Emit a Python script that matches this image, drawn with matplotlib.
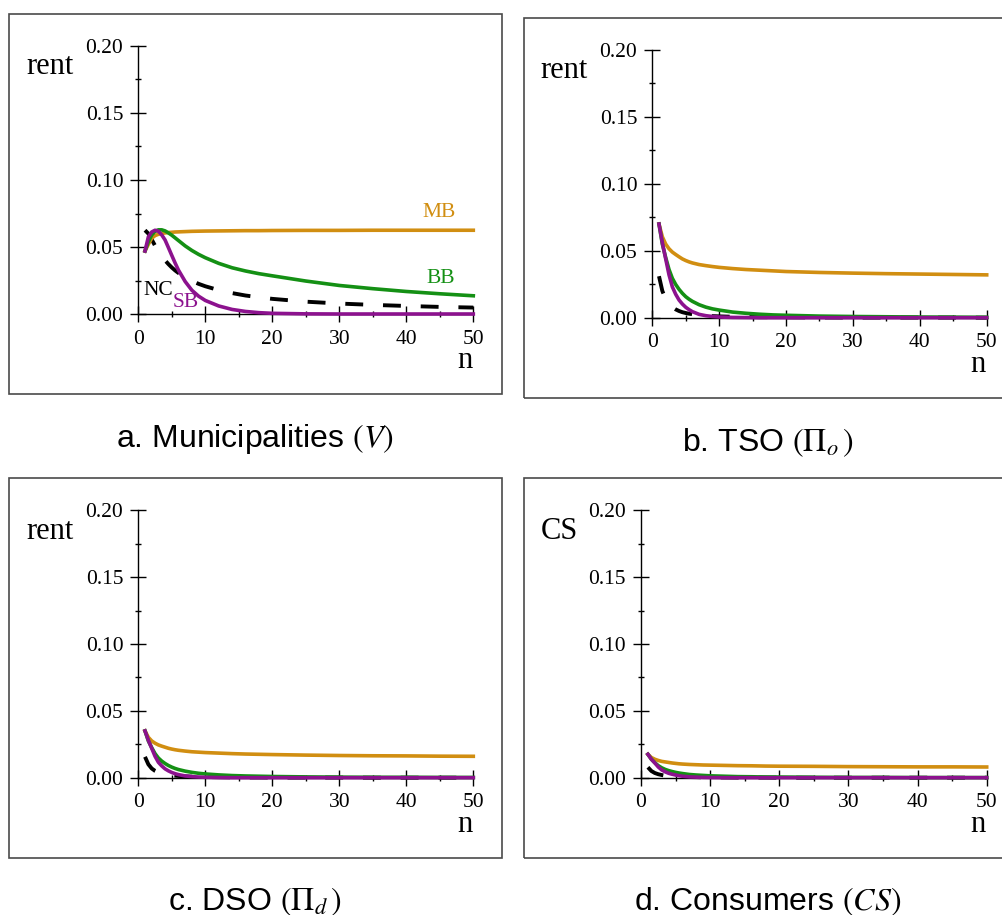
import matplotlib
matplotlib.use("Agg")
import matplotlib.pyplot as plt
from matplotlib.patches import Rectangle
from matplotlib.ticker import MultipleLocator, FormatStrFormatter

plt.rcParams['font.family'] = ['Liberation Serif', 'DejaVu Serif']
plt.rcParams['mathtext.fontset'] = 'stix'

# ---------------- data ----------------
n = [1, 1.5, 2, 2.5, 3, 3.5, 4, 4.5, 5, 5.5, 6, 7, 8, 9, 10, 12, 14, 16, 18, 20,
     25, 30, 35, 40, 45, 50]

# a. Municipalities (V)
MB_a = [0.047, 0.052, 0.0565, 0.0585, 0.0595, 0.0601, 0.0605, 0.0608, 0.061, 0.0612,
        0.0613, 0.0615, 0.0617, 0.0618, 0.0619, 0.062, 0.0621, 0.0622, 0.0622, 0.0623,
        0.0624, 0.0624, 0.0625, 0.0625, 0.0625, 0.0625]
BB_a = [0.047, 0.054, 0.059, 0.0617, 0.0628, 0.0628, 0.0620, 0.0605, 0.0588, 0.0568,
        0.0548, 0.0508, 0.0474, 0.0445, 0.042, 0.0378, 0.0345, 0.0321, 0.0301, 0.0285,
        0.0246, 0.0213, 0.0189, 0.0168, 0.0151, 0.0136]
SB_a = [0.047, 0.0575, 0.0612, 0.0625, 0.0618, 0.059, 0.0552, 0.0495, 0.0437, 0.038,
        0.0327, 0.0242, 0.0177, 0.0133, 0.0101, 0.0060, 0.0034, 0.0019, 0.0010, 0.0005,
        0.0001, 0.0, 0.0, 0.0, 0.0, 0.0]
NC_a = [0.0625, 0.060, 0.0556, 0.051, 0.0469, 0.0432, 0.040, 0.0372, 0.0347, 0.0325,
        0.0306, 0.0273, 0.0247, 0.0225, 0.0207, 0.0178, 0.0156, 0.0138, 0.0125, 0.0113,
        0.0092, 0.0078, 0.0068, 0.006, 0.0053, 0.0048]

# b. TSO
MB_b = [0.070, 0.0605, 0.055, 0.0515, 0.049, 0.0472, 0.0455, 0.0439, 0.0427, 0.0417,
        0.0409, 0.0397, 0.0389, 0.0382, 0.0376, 0.0367, 0.036, 0.0355, 0.035, 0.0345,
        0.0338, 0.0333, 0.0329, 0.0326, 0.0323, 0.032]
BB_b = [0.070, 0.055, 0.045, 0.036, 0.0294, 0.0248, 0.0212, 0.0182, 0.0157, 0.0138,
        0.0122, 0.0097, 0.0079, 0.0066, 0.0057, 0.0042, 0.0033, 0.0026, 0.0021, 0.0018,
        0.0012, 0.0009, 0.0007, 0.0005, 0.0004, 0.0003]
SB_b = [0.070, 0.056, 0.044, 0.032, 0.023, 0.0175, 0.0132, 0.0102, 0.0078, 0.006,
        0.0045, 0.0025, 0.0015, 0.0009, 0.0005, 0.0002, 0.0001, 0.0, 0.0, 0.0,
        0.0, 0.0, 0.0, 0.0, 0.0, 0.0]
NC_b = [0.031, 0.020, 0.0139, 0.0102, 0.0078, 0.0062, 0.005, 0.0041, 0.0035, 0.003,
        0.0026, 0.002, 0.0015, 0.0012, 0.001, 0.0007, 0.0006, 0.0004, 0.0004, 0.0003,
        0.0002, 0.0001, 0.0001, 0.0001, 0.0001, 0.0]

# c. DSO
MB_c = [0.035, 0.0302, 0.0275, 0.0258, 0.0245, 0.0236, 0.0228, 0.022, 0.0214, 0.0209,
        0.0205, 0.0199, 0.0194, 0.0191, 0.0188, 0.0184, 0.018, 0.0177, 0.0175, 0.0173,
        0.0169, 0.0166, 0.0164, 0.0163, 0.0161, 0.016]
BB_c = [0.035, 0.0275, 0.0225, 0.018, 0.0147, 0.0124, 0.0106, 0.0091, 0.0079, 0.0069,
        0.0061, 0.0049, 0.004, 0.0033, 0.0028, 0.0021, 0.0016, 0.0013, 0.0011, 0.0009,
        0.0006, 0.0004, 0.0003, 0.0003, 0.0002, 0.0002]
SB_c = [0.035, 0.028, 0.022, 0.016, 0.0115, 0.0088, 0.0066, 0.0051, 0.0039, 0.003,
        0.0023, 0.0013, 0.0008, 0.0005, 0.0003, 0.0001, 0.0, 0.0, 0.0, 0.0,
        0.0, 0.0, 0.0, 0.0, 0.0, 0.0]
NC_c = [0.0156, 0.010, 0.0069, 0.0051, 0.0039, 0.0031, 0.0025, 0.0021, 0.0017, 0.0015,
        0.0013, 0.001, 0.0008, 0.0006, 0.0005, 0.0004, 0.0003, 0.0002, 0.0002, 0.0001,
        0.0001, 0.0001, 0.0, 0.0, 0.0, 0.0]

# d. Consumers (CS)
MB_d = [0.0175, 0.0151, 0.0138, 0.0129, 0.0122, 0.0118, 0.0114, 0.011, 0.0107, 0.0104,
        0.0102, 0.0099, 0.0097, 0.0095, 0.0094, 0.0092, 0.009, 0.0089, 0.0087, 0.0086,
        0.0085, 0.0083, 0.0082, 0.0081, 0.0081, 0.008]
BB_d = [0.0175, 0.0138, 0.0112, 0.009, 0.0074, 0.0062, 0.0053, 0.0046, 0.004, 0.0035,
        0.0031, 0.0024, 0.002, 0.0017, 0.0014, 0.0011, 0.0008, 0.0007, 0.0005, 0.0005,
        0.0003, 0.0002, 0.0002, 0.0001, 0.0001, 0.0001]
SB_d = [0.0175, 0.0138, 0.011, 0.008, 0.0058, 0.0044, 0.0033, 0.0026, 0.002, 0.0015,
        0.0011, 0.0006, 0.0004, 0.0002, 0.0001, 0.0, 0.0, 0.0, 0.0, 0.0,
        0.0, 0.0, 0.0, 0.0, 0.0, 0.0]
NC_d = [0.0078, 0.005, 0.0035, 0.0026, 0.002, 0.0015, 0.0012, 0.001, 0.0009, 0.0007,
        0.0006, 0.0005, 0.0004, 0.0003, 0.0003, 0.0002, 0.0001, 0.0001, 0.0001, 0.0,
        0.0, 0.0, 0.0, 0.0, 0.0, 0.0]

captions = [r'a. Municipalities $(V)$', r'b. TSO $(\Pi_o\,)$',
            r'c. DSO $(\Pi_d\,)$', r'd. Consumers $(CS)$']
ylabels = ['rent', 'rent', 'rent', 'CS']

# ---------------- styling ----------------
C_MB = '#D18E11'
C_BB = '#149014'
C_SB = '#8C128E'
C_NC = '#000000'

W, H = 1003, 915
fig = plt.figure(figsize=(W / 100, H / 100), dpi=100)


def fx(px):
    return px / W


def fy(py):
    return 1 - py / H


def add_axes_px(l, r, t, b):
    return fig.add_axes([fx(l), fy(b), (r - l) / W, (b - t) / H])


layout = [
    dict(ax=(138.3, 473.3, 46, 314), frame=(9.5, 502, 14.5, 394),
         ylab=(26, 74.3), nlab=(457, 367.5), cap=(255, 446.7)),
    dict(ax=(652.3, 986.7, 50, 317.7), frame=(524, 1012, 18.3, 397.7),
         ylab=(540, 78.3), nlab=(970.7, 371.5), cap=(768, 451)),
    dict(ax=(138.3, 473.3, 510.3, 777.7), frame=(9.5, 502, 478.3, 858.3),
         ylab=(26, 539.3), nlab=(457, 831.5), cap=(255, 910)),
    dict(ax=(641, 986.7, 510.3, 777.7), frame=(524, 1012, 478.3, 858.3),
         ylab=(540.7, 539.3), nlab=(970.7, 831.5), cap=(768, 910)),
]

data = [
    (NC_a, MB_a, BB_a, SB_a),
    (NC_b, MB_b, BB_b, SB_b),
    (NC_c, MB_c, BB_c, SB_c),
    (NC_d, MB_d, BB_d, SB_d),
]

for i, (lay, (nc, mb, bb, sb)) in enumerate(zip(layout, data)):
    x0, x1, y0, y1 = lay['frame']
    fig.add_artist(Rectangle((fx(x0), fy(y1)), (x1 - x0) / W, (y1 - y0) / H,
                             transform=fig.transFigure, fill=False,
                             ec='#4a4a4a', lw=1.2))
    ax = add_axes_px(*lay['ax'])
    ax.set_xlim(0, 50)
    ax.set_ylim(0, 0.20)
    ax.patch.set_alpha(0)
    for s in ('top', 'right'):
        ax.spines[s].set_visible(False)
    for s in ('left', 'bottom'):
        ax.spines[s].set_linewidth(1.0)
    ax.xaxis.set_major_locator(MultipleLocator(10))
    ax.xaxis.set_minor_locator(MultipleLocator(5))
    ax.yaxis.set_major_locator(MultipleLocator(0.05))
    ax.yaxis.set_minor_locator(MultipleLocator(0.025))
    ax.yaxis.set_major_formatter(FormatStrFormatter('%.2f'))
    ax.tick_params(which='major', direction='inout', length=11.5, width=1.0,
                   labelsize=15.5)
    ax.tick_params(which='minor', direction='inout', length=5, width=1.0)
    ax.tick_params(axis='y', which='major', pad=5.0)
    ax.tick_params(axis='x', which='major', pad=5.5)

    ax.plot(n, nc, color=C_NC, lw=2.8, linestyle=(0, (4.6, 5.1)),
            clip_on=False, zorder=3)
    ax.plot(n, mb, color=C_MB, lw=2.6, clip_on=False, zorder=4)
    ax.plot(n, bb, color=C_BB, lw=2.6, clip_on=False, zorder=5)
    ax.plot(n, sb, color=C_SB, lw=2.6, clip_on=False, zorder=6)

    fig.text(fx(lay['ylab'][0]), fy(lay['ylab'][1]), ylabels[i], size=22,
             ha='left', va='baseline')
    fig.text(fx(lay['nlab'][0]), fy(lay['nlab'][1]), 'n', size=22,
             ha='left', va='baseline')
    fig.text(fx(lay['cap'][0]), fy(lay['cap'][1]), captions[i], size=23,
             family=['Liberation Sans', 'DejaVu Sans'], ha='center', va='baseline')

# curve labels in panel a
fig.text(fx(422.7), fy(216.7), 'MB', color=C_MB, size=15.5, ha='left', va='baseline')
fig.text(fx(426), fy(283.3), 'BB', color=C_BB, size=15.5, ha='left', va='baseline')
fig.text(fx(143.3), fy(295), 'NC', color='black', size=15.5, ha='left', va='baseline')
fig.text(fx(172.7), fy(306.7), 'SB', color=C_SB, size=15.5, ha='left', va='baseline')

fig.savefig('out.png', dpi=100)
